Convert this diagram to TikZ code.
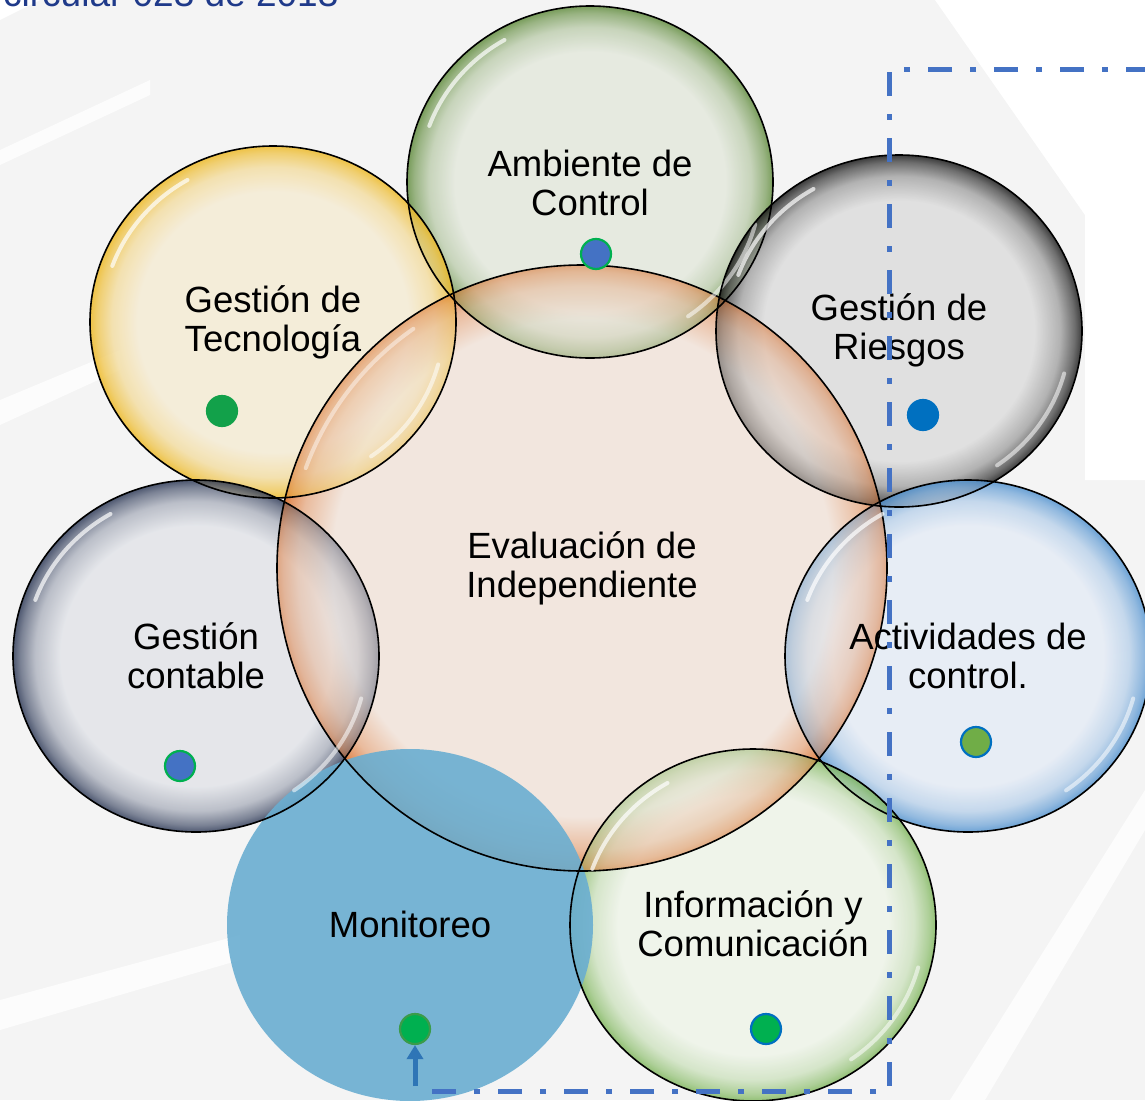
\documentclass[tikz,border=0pt]{standalone}
\usepackage{fontspec}
\setmainfont{Liberation Sans}
\usetikzlibrary{shapes.geometric,arrows.meta}
\definecolor{bggray}{HTML}{F4F4F4}
\definecolor{bgwhite}{HTML}{FCFCFC}
\definecolor{titleblue}{HTML}{1F3A8A}
\definecolor{dashblue}{HTML}{4472C4}
\definecolor{arrowblue}{HTML}{2E75B6}
\definecolor{dgreen}{HTML}{00B050}
\definecolor{dgreenb}{HTML}{12A14A}
\definecolor{dgreenc}{HTML}{3B9B4A}
\definecolor{dblue}{HTML}{0070C0}
\definecolor{lgreen}{HTML}{70AD47}
\definecolor{monblue}{HTML}{6AAED1}
\definecolor{evi}{HTML}{F2E6DE}\definecolor{evc}{HTML}{DD7B3C}
\definecolor{ambi}{HTML}{E3E8DC}\definecolor{ambc}{HTML}{5E8A3A}
\definecolor{teci}{HTML}{F5ECD4}\definecolor{tecc}{HTML}{EEB820}
\definecolor{riei}{HTML}{DCDCDC}\definecolor{riec}{HTML}{151515}
\definecolor{coni}{HTML}{E2E4E9}\definecolor{conc}{HTML}{2A3654}
\definecolor{acti}{HTML}{E5ECF6}\definecolor{actc}{HTML}{4F91CF}
\definecolor{infi}{HTML}{EEF4E8}\definecolor{infc}{HTML}{7DB55A}
\colorlet{bubi}{white}
\colorlet{bubc}{black}
\pgfdeclareradialshading[bubi,bubc]{bubble}{\pgfpointorigin}{%
  color(0bp)=(bubi); color(18.5bp)=(bubi); color(22bp)=(bubi!72!bubc);
  color(24bp)=(bubi!30!bubc); color(25bp)=(bubc); color(50bp)=(bubc)}
\pgfdeclareradialshading[bubi,bubc]{centerbub}{\pgfpointorigin}{%
  color(0bp)=(bubi); color(20.5bp)=(bubi); color(23.3bp)=(bubi!60!bubc);
  color(24.5bp)=(bubi!25!bubc); color(25bp)=(bubc); color(50bp)=(bubc)}
\tikzset{
  bubshade/.style 2 args={/utils/exec={\colorlet{bubi}{#1}\colorlet{bubc}{#2}}, shading=bubble},
  bubble/.style 2 args={ellipse, inner sep=0pt, minimum width=366pt, minimum height=352pt,
    bubshade={#1}{#2}, fill opacity=0.82},
  centershade/.style={ellipse, inner sep=0pt, minimum width=610pt, minimum height=606pt,
    /utils/exec={\colorlet{bubi}{evi}\colorlet{bubc}{evc}}, shading=centerbub},
  outline/.style={draw=black, line width=1.6pt},
  gloss/.style={draw=white, line width=4pt, line cap=round, opacity=0.7},
  label/.style={font=\fontsize{36.5}{39}\selectfont, align=center, text=black},
  dot/.style={circle, inner sep=0pt, minimum size=30pt, line width=2.2pt},
  dashline/.style={draw=dashblue, line width=5pt, dash pattern=on 24pt off 18pt on 6pt off 18pt},
}
\begin{document}
\begin{tikzpicture}[x=1pt,y=-1pt]
\useasboundingbox (0,0) rectangle (1145,1100);
\clip (0,0) rectangle (1145,1100);
% background
\fill[bggray] (0,0) rectangle (1145,1100);
\fill[white] (935,0) -- (1145,0) -- (1145,480) -- (1085,480) -- (1085,215) -- cycle;
\fill[bgwhite] (0,150) -- (0,165) -- (150,95) -- (150,80) -- cycle;
\fill[bgwhite] (0,400) -- (0,425) -- (120,370) -- (120,350) -- cycle;
\fill[bgwhite] (0,1000) -- (0,1030) -- (240,960) -- (240,935) -- cycle;
\fill[bgwhite] (950,1100) -- (985,1100) -- (1145,830) -- (1145,790) -- cycle;
\fill[white] (0,0) -- (40,0) -- (0,20) -- cycle;
% title (cut at top, as in the reference)
\node[anchor=base west, font=\fontsize{37}{40}\selectfont, text=titleblue, inner sep=0pt] (title) at (3,6) {circular 023 de 2013};
% central bubble
\node[centershade] (eval) at (582,568) {};
% outer bubbles
\node[bubble={ambi}{ambc}] (amb) at (590,182) {};
\node[bubble={teci}{tecc}] (tec) at (273,322) {};
\node[bubble={riei}{riec}] (rie) at (899,331) {};
\node[bubble={coni}{conc}] (con) at (196,656) {};
\node[bubble={acti}{actc}] (act) at (968,656) {};
\node[bubble={infi}{infc}] (inf) at (753,925) {};
% translucent overlay of the central bubble
\node[centershade, fill opacity=0.5] (evalov) at (582,568) {};
\node[ellipse, inner sep=0pt, minimum width=366pt, minimum height=352pt, fill=monblue, fill opacity=0.9] (mon) at (410,925) {};
% outlines
\draw[outline] (eval.center) ellipse [x radius=305, y radius=303];
\foreach \n in {amb,tec,rie,con,act,inf}{
  \draw[outline] (\n.center) ellipse [x radius=183, y radius=176];
  \draw[gloss] (\n.center) ++(200:171 and 164) arc [start angle=200, end angle=240, x radius=171, y radius=164];
  \draw[gloss, opacity=0.55] (\n.center) ++(15:171 and 164) arc [start angle=15, end angle=55, x radius=171, y radius=164];
}
\draw[gloss, opacity=0.45] (eval.center) ++(200:294 and 292) arc [start angle=200, end angle=235, x radius=294, y radius=292];
% labels
\node[label] (tA) at (590,183) {Ambiente de\\Control};
\node[label] (tT) at (273,322) {Gestión de\\Tecnología};
\node[label] (tR) at (899,330) {Gestión de\\Riesgos};
\node[label] (tE) at (582,568) {Evaluación de\\Independiente};
\node[label] (tC) at (196,656) {Gestión\\contable};
\node[label] (tAc) at (968,656) {Actividades de\\control.};
\node[label] (tM) at (410,924) {Monitoreo};
\node[label] (tI) at (753,924) {Información y\\Comunicación};
% dots
\node[dot, fill=dashblue, draw=dgreen] (dA) at (596,254) {};
\node[dot, fill=dgreenb, draw=dgreenb] (dT) at (222,411) {};
\node[dot, fill=dblue, draw=dblue] (dR) at (923,415) {};
\node[dot, fill=dashblue, draw=dgreen] (dC) at (180,766) {};
\node[dot, fill=lgreen, draw=dblue] (dAc) at (976,742) {};
\node[dot, fill=dgreen, draw=dgreenc] (dM) at (415,1029) {};
\node[dot, fill=dgreen, draw=dblue] (dI) at (766,1029) {};
% dashed connector
\coordinate (p0) at (1150,69);
\coordinate (p1) at (889,69);
\coordinate (p2) at (889,1091);
\coordinate (p3) at (420,1091);
\coordinate (p4) at (415,1086);
\draw[dashline] (p0) -- (p1) -- (p2) -- (p3);
\draw[arrowblue, line width=5pt, -{Triangle[width=16pt,length=14pt]}] (p4) -- (dM.south);
\end{tikzpicture}
\end{document}
